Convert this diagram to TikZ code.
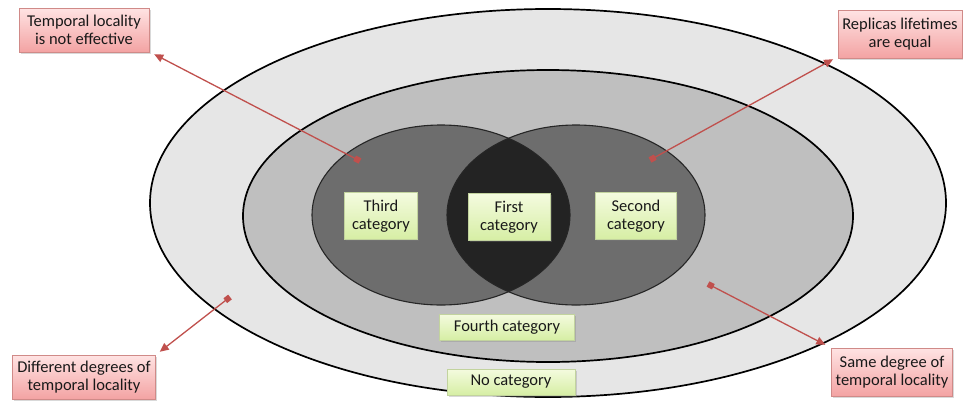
\documentclass[tikz,border=0pt]{standalone}
\usepackage{fontspec}
\setmainfont{Carlito}
\usepackage{tikz}
\usetikzlibrary{arrows.meta,positioning,shadows}
\definecolor{cOuter}{HTML}{E6E6E6}
\definecolor{cMiddle}{HTML}{BFBFBF}
\definecolor{cRing}{HTML}{6D6D6D}
\definecolor{cCore}{HTML}{232323}
\definecolor{cCatTop}{HTML}{F4FBDF}
\definecolor{cCatBot}{HTML}{D6EEA4}
\definecolor{cCatLine}{HTML}{C2D39E}
\definecolor{cNoteTop}{HTML}{FFE3E3}
\definecolor{cNoteBot}{HTML}{F3A3A3}
\definecolor{cNoteLine}{HTML}{D08A88}
\definecolor{cArrow}{HTML}{C0504D}
\tikzset{
  zone/.style={draw=black, line width=1.7pt},
  ring/.style={draw=black!85, line width=1.1pt},
  catbox/.style={rectangle, draw=cCatLine, top color=cCatTop, bottom color=cCatBot, align=center, text=black!90, inner xsep=6pt, minimum height=26pt, drop shadow={opacity=0.3, shadow xshift=1.5pt, shadow yshift=-1.5pt}},
  notebox/.style={rectangle, draw=cNoteLine, top color=cNoteTop, bottom color=cNoteBot, align=center, text=black!90, inner xsep=4pt, minimum height=44pt, drop shadow={opacity=0.3, shadow xshift=1.5pt, shadow yshift=-1.5pt}},
  pointer/.style={{Square[length=6pt, width=6pt]}-{Triangle[length=9pt, width=8pt]}, line width=1.3pt, cArrow},
}

\begin{document}
\begin{tikzpicture}[x=1pt, y=-1pt, font=\fontsize{16.5}{18.5}\selectfont]
  \useasboundingbox (0,0) rectangle (963,402);
  % nested zones
  \draw[zone, fill=cOuter]  (548,203) ellipse [x radius=398, y radius=194];
  \draw[zone, fill=cMiddle] (548,216) ellipse [x radius=305, y radius=146];
  \fill[cRing] (441,215) ellipse [x radius=129, y radius=90];
  \fill[cRing] (576,215) ellipse [x radius=129, y radius=90];
  \begin{scope}
    \clip (441,215) ellipse [x radius=129, y radius=90];
    \fill[cCore] (576,215) ellipse [x radius=129, y radius=90];
  \end{scope}
  \draw[ring] (441,215) ellipse [x radius=129, y radius=90];
  \draw[ring] (576,215) ellipse [x radius=129, y radius=90];

  % category labels
  \node[catbox, minimum width=73pt, minimum height=47pt] (third)  at (381,216) {Third\\category};
  \node[catbox, minimum width=82pt, minimum height=47pt] (first)  at (509,217) {First\\category};
  \node[catbox, minimum width=81pt, minimum height=47pt] (second) at (636,216) {Second\\category};
  \node[catbox, minimum width=135pt] (fourth) at (507,327) {Fourth category};
  \node[catbox, minimum width=128pt] (none)   at (511,382) {No category};

  % notes
  \node[notebox, minimum width=130pt] (tl) at (84,30)  {Temporal locality\\is not effective};
  \node[notebox, minimum width=118pt, minimum height=48pt] (tr) at (900,34)  {Replicas lifetimes\\are equal};
  \node[notebox, minimum width=143pt] (bl) at (84,377) {Different degrees of\\temporal locality};
  \node[notebox, minimum width=121pt, minimum height=48pt] (br) at (892,372) {Same degree of\\temporal locality};

  \coordinate (pTL) at (360,161);
  \coordinate (pTR) at (650,160);
  \coordinate (pBL) at (230,297);
  \coordinate (pBR) at (708,284);
  \draw[pointer] (pTL) -- ([shift={(5,2)}]tl.south east);
  \draw[pointer] (pTR) -- ([shift={(-5,1)}]tr.south west);
  \draw[pointer] (pBL) -- ([shift={(4,-3)}]bl.north east);
  \draw[pointer] (pBR) -- ([shift={(-6,-3)}]br.north west);
\end{tikzpicture}
\end{document}
